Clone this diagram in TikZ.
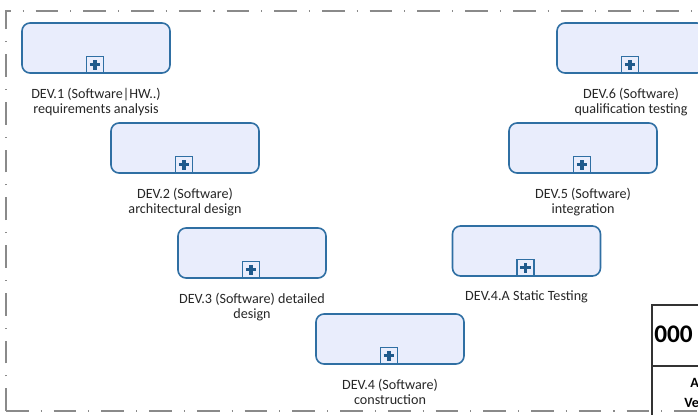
\documentclass[tikz,border=0pt]{standalone}
\usepackage{fontspec}
\setmainfont{Carlito}
\definecolor{boxblue}{HTML}{2F6FA3}
\definecolor{boxfill}{HTML}{E9EDFC}
\definecolor{plusblue}{HTML}{1F5A8C}
\definecolor{framegray}{HTML}{8A8A8A}
\tikzset{
  task/.style={draw=boxblue, line width=1.2pt, fill=boxfill, rounded corners=6pt,
    minimum width=111pt, minimum height=37.5pt, inner sep=0pt},
  plusbox/.style={draw=boxblue, line width=1.1pt, fill=boxfill, minimum size=12.5pt, inner sep=0pt,
    path picture={
      \draw[plusblue, line width=2.6pt] ([xshift=-3.8pt]path picture bounding box.center) -- ([xshift=3.8pt]path picture bounding box.center);
      \draw[plusblue, line width=2.6pt] ([yshift=-3.8pt]path picture bounding box.center) -- ([yshift=3.8pt]path picture bounding box.center);
    }},
  lab/.style={font=\fontsize{10.6pt}{11.25pt}\selectfont, align=center, inner sep=0pt, anchor=north, text=black!85},
  frame/.style={draw=framegray, line width=1.3pt, dash pattern=on 17pt off 9pt on 0.8pt off 9pt},
  panel/.style={draw=black!80, line width=0.8pt}
}
\begin{document}
\begin{tikzpicture}[x=0.75pt, y=-0.75pt]
\useasboundingbox (0,0) rectangle (698,414);
\clip (0,0) rectangle (698,414);
\draw[frame] (6,411) -- (6,11) -- (760,11);
\draw[frame] (6,411) -- (760,411);

\node[task] (d1) at (96,48) {};
\node[task] (d2) at (185,148) {};
\node[task] (d3) at (252,253) {};
\node[task] (d4) at (390,339) {};
\node[task] (d4a) at (526.5,251) {};
\node[task] (d5) at (583,148) {};
\node[task] (d6) at (631,48) {};

\foreach \n in {d1,d2,d3,d4,d4a,d5,d6}{
  \node[plusbox, anchor=south] (p\n) at ([xshift=-0.75pt]\n.south) {};
}

\node[lab] (l1) at ([yshift=-10.5pt]d1.south) {DEV.1 (Software|HW..)\\requirements analysis};
\node[lab] (l2) at ([yshift=-10.5pt]d2.south) {DEV.2 (Software)\\architectural design};
\node[lab] (l3) at ([yshift=-10.5pt]d3.south) {DEV.3 (Software) detailed\\design};
\node[lab] (l4) at ([yshift=-10.5pt]d4.south) {DEV.4 (Software)\\construction};
\node[lab] (l4a) at ([yshift=-10.5pt]d4a.south) {DEV.4.A Static Testing};
\node[lab] (l5) at ([yshift=-10.5pt]d5.south) {DEV.5 (Software)\\integration};
\node[lab] (l6) at ([yshift=-10.5pt]d6.south) {DEV.6 (Software)\\qualification testing};

\draw[panel] (652,420) -- (652,305) -- (720,305);
\draw[panel] (652,366) -- (720,366);
\node[anchor=west, inner sep=0pt, font=\fontsize{19pt}{21pt}\selectfont\bfseries] (num) at (654,334) {000};
\node[anchor=west, inner sep=0pt, font=\fontsize{10.6pt}{11pt}\selectfont\bfseries] (ta) at (690,383) {A};
\node[anchor=west, inner sep=0pt, font=\fontsize{10.6pt}{11pt}\selectfont\bfseries] (tv) at (684,403) {Ve};
\end{tikzpicture}
\end{document}
